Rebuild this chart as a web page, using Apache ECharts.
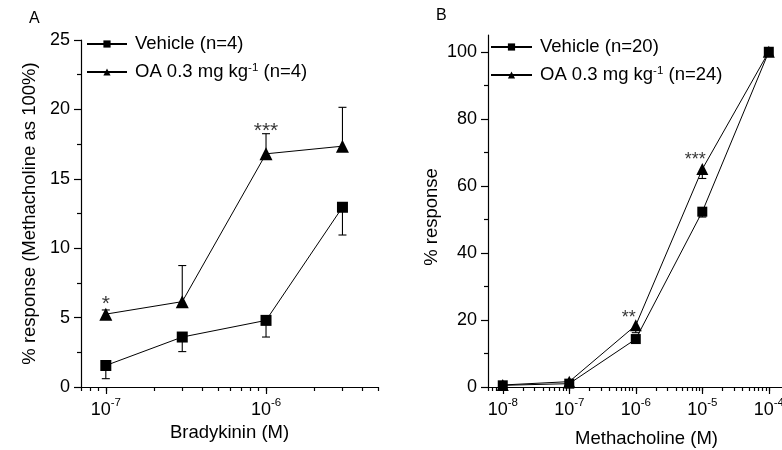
<!DOCTYPE html>
<html><head><meta charset="utf-8">
<script src="https://cdn.jsdelivr.net/npm/echarts@6/dist/echarts.min.js"></script>
<style>html,body{margin:0;padding:0;background:#fff}#c{width:782px;height:450px}</style>
</head><body><div id="c"></div>
<script>
// ---- Panel A data (Bradykinin) ----
const concA = [1e-7, 3e-7, 1e-6, 3e-6];
const vehA = [1.55, 3.6, 4.8, 12.95];
const vehAerr = [-0.95, -1.05, -1.2, -2.0];
const oaA = [5.25, 6.15, 16.8, 17.35];
const oaAerr = [0.3, 2.6, 1.45, 2.8];
const starXA = [1e-7, 1e-6];
const starYA = [6.0, 18.4];
const starTA = ['*', '***'];
const nameVehA = 'Vehicle (n=4)';
const nameOaA = 'OA 0.3 mg kg-1 (n=4)';
const yTicksA = [0, 5, 10, 15, 20, 25];
const yMinorA = [2.5, 7.5, 12.5, 17.5, 22.5];
const xTicksA = [1e-7, 1e-6];

// ---- Panel B data (Methacholine) ----
const concB = [1e-8, 1e-7, 1e-6, 1e-5, 1e-4];
const vehB = [0.5, 1.0, 14.3, 52.3, 100];
const vehBerr = [-0.3, -0.4, -1.2, -1.6, 0];
const oaB = [0.6, 1.6, 18.4, 65.0, 100];
const oaBerr = [-0.3, -0.5, -2.2, -2.8, 0];
const starXB = [1e-6, 1e-5];
const starYB = [20.6, 67.6];
const starTB = ['**', '***'];
const nameVehB = 'Vehicle (n=20)';
const nameOaB = 'OA 0.3 mg kg-1 (n=24)';
const yTicksB = [0, 20, 40, 60, 80, 100];
const yMinorB = [10, 30, 50, 70, 90];
const xTicksB = [1e-8, 1e-7, 1e-6, 1e-5, 1e-4];

const FONT = '"Liberation Sans", Arial, Helvetica, sans-serif';
const L = Math.log10;

function minorLog(lo, hi) {
  const out = [];
  for (let d = Math.floor(L(lo)) - 1; d <= Math.ceil(L(hi)); d++) {
    for (let k = 1; k <= 9; k++) {
      const v = k * Math.pow(10, d);
      if (v >= lo * 0.999 && v <= hi * 1.001) out.push(L(v));
    }
  }
  return out;
}

const rangeA = [7e-8, 5e-6];
const rangeB = [6e-9, 3.5e-4];

const pts = (xs, ys) => xs.map((x, i) => [L(x), ys[i]]);
const errs = (xs, ys, es) => xs.map((x, i) => [L(x), ys[i], es[i]]);
const stars = (xs, ys, ts) => xs.map((x, i) => ({ value: [L(x), ys[i]], t: ts[i] }));

const supLabel = v => '{b|10}{s|' + Math.round(v) + '}';

function xMajor(gi, range, ticks, name, nameGap) {
  return {
    type: 'value', gridIndex: gi, position: 'bottom',
    min: L(range[0]), max: L(range[1]),
    name: name, nameLocation: 'middle', nameGap: nameGap,
    nameTextStyle: { fontFamily: FONT, fontSize: 18.5, color: '#000' },
    axisLine: { show: true, onZero: false, lineStyle: { color: '#000', width: 1.2 } },
    axisTick: { show: true, length: 7, customValues: ticks.map(L), lineStyle: { color: '#000', width: 1.2 } },
    axisLabel: {
      show: true, customValues: ticks.map(L), margin: 10,
      formatter: supLabel, color: '#000', fontFamily: FONT,
      rich: {
        b: { fontSize: 18, fontFamily: FONT, color: '#000', verticalAlign: 'bottom', lineHeight: 22 },
        s: { fontSize: 11.5, fontFamily: FONT, color: '#000', verticalAlign: 'top', lineHeight: 12 }
      }
    },
    splitLine: { show: false }
  };
}
function xMinor(gi, range) {
  return {
    type: 'value', gridIndex: gi, position: 'bottom',
    min: L(range[0]), max: L(range[1]),
    axisLine: { show: false, onZero: false },
    axisTick: { show: true, length: 4, customValues: minorLog(range[0], range[1]), lineStyle: { color: '#000', width: 1.2 } },
    axisLabel: { show: false }, splitLine: { show: false }
  };
}
function yMajor(gi, max, ticks, name, nameGap, namePad) {
  return {
    type: 'value', gridIndex: gi, position: 'left', min: 0, max: max,
    name: name, nameLocation: 'middle', nameGap: nameGap, nameRotate: 90,
    nameTextStyle: { fontFamily: FONT, fontSize: 18.5, color: '#000', padding: namePad },
    axisLine: { show: true, onZero: false, lineStyle: { color: '#000', width: 1.2 } },
    axisTick: { show: true, length: 7, customValues: ticks, lineStyle: { color: '#000', width: 1.2 } },
    axisLabel: { show: true, customValues: ticks, margin: 11, color: '#000', fontFamily: FONT, fontSize: 18 },
    splitLine: { show: false }
  };
}
function yMinor(gi, max, ticks) {
  return {
    type: 'value', gridIndex: gi, position: 'left', offset: 0, min: 0, max: max,
    axisLine: { show: false, onZero: false },
    axisTick: { show: true, length: 4, customValues: ticks, lineStyle: { color: '#000', width: 1.2 } },
    axisLabel: { show: false }, splitLine: { show: false }
  };
}

function errRender(params, api) {
  const x = api.value(0), y = api.value(1), e = api.value(2);
  if (!e) return null;
  const p0 = api.coord([x, y]);
  const p1 = api.coord([x, y + e]);
  const w = 4;
  return {
    type: 'group', children: [
      { type: 'line', shape: { x1: p0[0], y1: p0[1], x2: p1[0], y2: p1[1] }, style: { stroke: '#000', lineWidth: 1.1 } },
      { type: 'line', shape: { x1: p1[0] - w, y1: p1[1], x2: p1[0] + w, y2: p1[1] }, style: { stroke: '#000', lineWidth: 1.1 } }
    ]
  };
}

function lineSeries(name, xi, yi, data, symbol, size) {
  return {
    name: name, type: 'line', xAxisIndex: xi, yAxisIndex: yi, data: data,
    symbol: symbol, symbolSize: size, showAllSymbol: true,
    lineStyle: { color: '#000', width: 1 }, itemStyle: { color: '#000' },
    emphasis: { disabled: true }, z: 4, animation: false
  };
}
function errSeries(xi, yi, data) {
  return { type: 'custom', xAxisIndex: xi, yAxisIndex: yi, data: data, renderItem: errRender, z: 3, animation: false, silent: true };
}
function starSeries(xi, yi, data, fs, dx) {
  return {
    type: 'scatter', xAxisIndex: xi, yAxisIndex: yi, data: data, symbolSize: 1,
    itemStyle: { color: 'rgba(0,0,0,0)' }, silent: true, animation: false, z: 5,
    label: { show: true, position: 'inside', offset: [dx, 0], formatter: p => p.data.t,
      fontFamily: FONT, fontSize: fs, color: '#000' }
  };
}

const legendRich = {
  s: { fontSize: 11.5, fontFamily: FONT, color: '#000', verticalAlign: 'top', lineHeight: 12 }
};
const legendFmt = n => n.replace('kg-1', 'kg{s|-1}');

const option = {
  animation: false,
  backgroundColor: '#fff',
  textStyle: { fontFamily: FONT },
  grid: [
    { left: 81, top: 40, width: 297, height: 347, outerBoundsMode: 'none', containLabel: false },
    { left: 488, top: 35, width: 317, height: 352, outerBoundsMode: 'none', containLabel: false }
  ],
  xAxis: [
    xMajor(0, rangeA, xTicksA, 'Bradykinin (M)', 36),
    xMinor(0, rangeA),
    xMajor(1, rangeB, xTicksB, 'Methacholine (M)', 42),
    xMinor(1, rangeB)
  ],
  yAxis: [
    yMajor(0, 25, yTicksA, '% response (Methacholine as 100%)', 42, 0),
    yMinor(0, 25, yMinorA),
    yMajor(1, 105, yTicksB, '% response', 47, [0, 12, 0, 0]),
    yMinor(1, 105, yMinorB)
  ],
  legend: [
    { data: [nameVehA, nameOaA], orient: 'vertical', left: 86, top: 34, padding: 0, itemWidth: 40, itemHeight: 9, itemGap: 8,
      formatter: legendFmt, selectedMode: false,
      textStyle: { fontFamily: FONT, fontSize: 18.5, color: '#000', lineHeight: 20, padding: [0, 0, 0, 3], rich: legendRich } },
    { data: [nameVehB, nameOaB], orient: 'vertical', left: 490, top: 37, padding: 0, itemWidth: 41, itemHeight: 9, itemGap: 8,
      formatter: legendFmt, selectedMode: false,
      textStyle: { fontFamily: FONT, fontSize: 18.5, color: '#000', lineHeight: 20, padding: [0, 0, 0, 3], rich: legendRich } }
  ],
  graphic: [
    { type: 'text', left: 29, top: 11, style: { text: 'A', fontFamily: FONT, fontSize: 16, fill: '#000' } },
    { type: 'text', left: 436, top: 8, style: { text: 'B', fontFamily: FONT, fontSize: 16, fill: '#000' } }
  ],
  series: [
    errSeries(0, 0, errs(concA, vehA, vehAerr)),
    errSeries(0, 0, errs(concA, oaA, oaAerr)),
    lineSeries(nameVehA, 0, 0, pts(concA, vehA), 'rect', 11),
    lineSeries(nameOaA, 0, 0, pts(concA, oaA), 'triangle', 13),
    starSeries(0, 0, stars(starXA, starYA, starTA), 21, 0),
    errSeries(2, 2, errs(concB, vehB, vehBerr)),
    errSeries(2, 2, errs(concB, oaB, oaBerr)),
    lineSeries(nameVehB, 2, 2, pts(concB, vehB), 'rect', 10),
    lineSeries(nameOaB, 2, 2, pts(concB, oaB), 'triangle', 12),
    starSeries(2, 2, stars(starXB, starYB, starTB), 18, -7)
  ]
};

const chart = echarts.init(document.getElementById('c'), null, { renderer: 'canvas' });
chart.setOption(option);
</script>
</body></html>
